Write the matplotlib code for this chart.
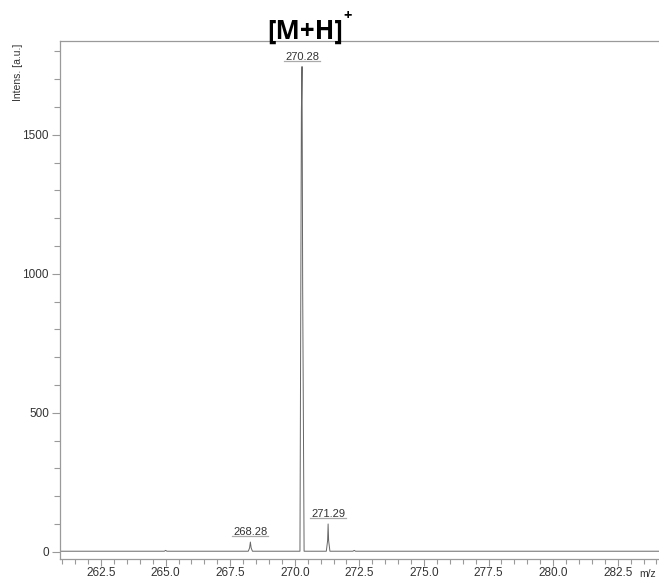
import matplotlib
matplotlib.use("Agg")
import matplotlib.pyplot as plt
from matplotlib.ticker import MultipleLocator, FixedLocator

plt.rcParams['font.family'] = ['Liberation Sans', 'DejaVu Sans']

# profile spectrum (m/z, intensity)
mz = [260.9, 264.95, 265.0, 265.05, 268.20, 268.25, 268.28, 268.31, 268.36,
      270.20, 270.255, 270.28, 270.305, 270.36,
      271.22, 271.27, 271.29, 271.31, 271.36, 272.25, 272.3, 272.35, 284.1]
intensity = [2, 2, 5, 2, 2, 14, 35, 14, 2,
             2, 1583, 1745, 950, 2,
             2, 40, 100, 40, 2, 2, 5, 2, 2]

peak_mz = [268.28, 270.28, 271.29]
peak_int = [35, 1745, 100]
peak_labels = ["268.28", "270.28", "271.29"]

x_ticks = [262.5, 265.0, 267.5, 270.0, 272.5, 275.0, 277.5, 280.0, 282.5]
y_ticks = [0, 500, 1000, 1500]

fig = plt.figure(figsize=(6.59, 5.81), dpi=100)
ax = fig.add_axes([60/659, 22/581, 599/659, 518/581])

ax.plot(mz, intensity, color='#666666', lw=0.7)

ax.set_xlim(260.91, 284.1)
ax.set_ylim(-26, 1837)

ax.xaxis.set_major_locator(FixedLocator(x_ticks))
ax.xaxis.set_minor_locator(MultipleLocator(0.5))
ax.yaxis.set_major_locator(FixedLocator(y_ticks))
ax.yaxis.set_minor_locator(MultipleLocator(100))
ax.set_xticklabels([f"{v:.1f}" for v in x_ticks])
ax.set_yticklabels([str(v) for v in y_ticks])

for s in ['top', 'right', 'bottom', 'left']:
    ax.spines[s].set_color('#9a9a9a')
    ax.spines[s].set_linewidth(0.9)
ax.spines['right'].set_visible(False)

ax.tick_params(axis='both', which='both', direction='out', colors='#9a9a9a',
               labelcolor='#333333', labelsize=8.5)
ax.tick_params(axis='y', which='major', length=6, width=0.8, pad=2)
ax.tick_params(axis='y', which='minor', length=4, width=0.8)
ax.tick_params(axis='x', which='major', length=5, width=0.8, pad=0.5)
ax.tick_params(axis='x', which='minor', length=3.5, width=0.8)

texts = []
for x, y, lab in zip(peak_mz, peak_int, peak_labels):
    t = ax.annotate(lab, (x, y), xytext=(0, 3.5), textcoords='offset points',
                    ha='center', va='bottom', fontsize=8, color='#333333')
    texts.append((t, y))

fig.text(18/659, 1 - 72/581, "Intens. [a.u.]", rotation=90, ha='center',
         va='center', fontsize=7.5, color='#333333')
fig.text(648/659, 1 - 574/581, "m/z", ha='center', va='center',
         fontsize=7.5, color='#333333')
title = fig.text(267/659, 1 - 31/581, "[M+H]", ha='left', va='center',
                 fontsize=18.5, fontweight='bold', color='black',
                 family=['Open Sans', 'DejaVu Sans'])

fig.canvas.draw()
inv = ax.transData.inverted()
for t, y in texts:
    bb = t.get_window_extent()
    (x0, _), (x1, _) = inv.transform([(bb.x0 - 1, 0), (bb.x1 + 1, 0)])
    yl = inv.transform([(0, bb.y0 + 1)])[0][1]
    ax.plot([x0, x1], [yl, yl], color='#aaaaaa', lw=0.9)

tb = title.get_window_extent()
fig.text((tb.x1 + 1) / 659, 1 - 16/581, "+", ha='left', va='center',
         fontsize=10.5, fontweight='bold', color='black',
         family=['Open Sans', 'DejaVu Sans'])

fig.savefig("out.png", dpi=100)
